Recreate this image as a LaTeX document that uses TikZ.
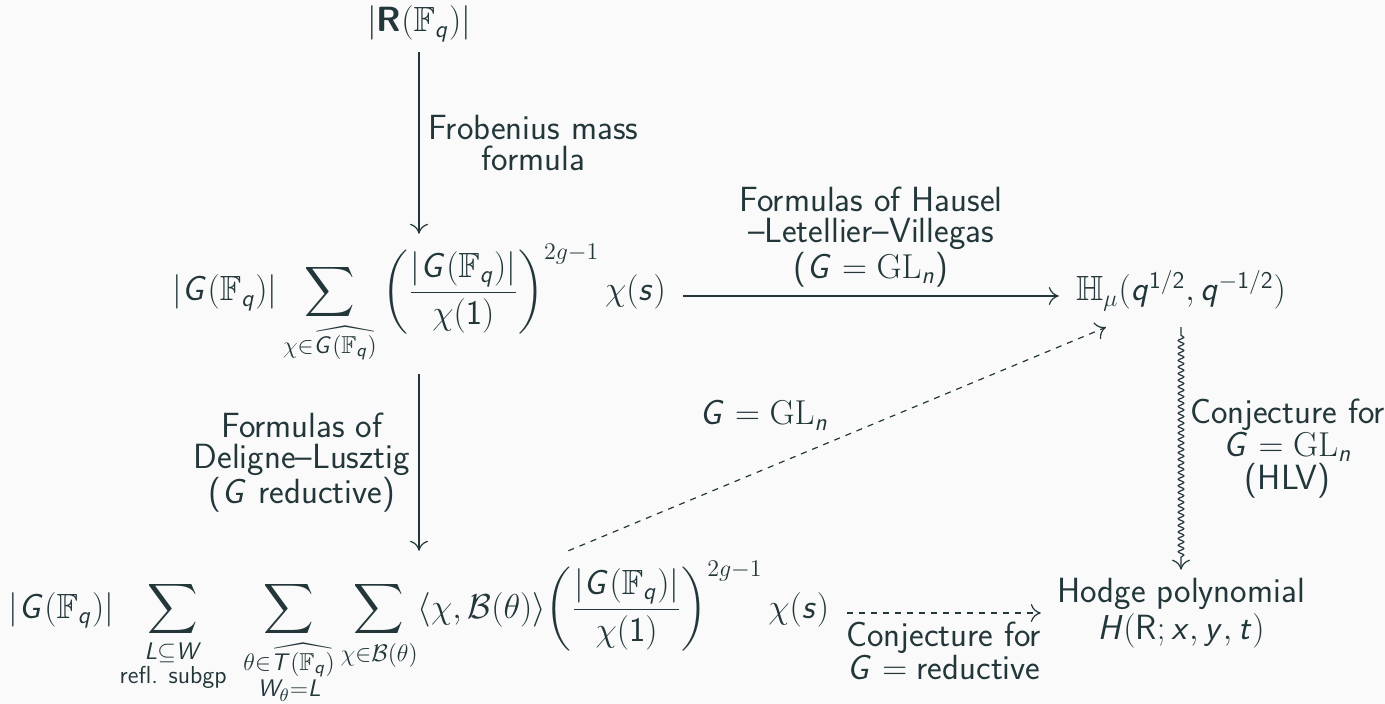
\documentclass[tikz,border=0pt]{standalone}
\usepackage{amsmath,amssymb}
\usetikzlibrary{cd,decorations.pathmorphing,arrows.meta}
\DeclareSymbolFont{sfit}{OT1}{cmss}{m}{sl}
\DeclareSymbolFont{sfup}{OT1}{cmss}{m}{n}
\DeclareMathSymbol{G}{\mathalpha}{sfit}{`G}
\DeclareMathSymbol{L}{\mathalpha}{sfit}{`L}
\DeclareMathSymbol{W}{\mathalpha}{sfit}{`W}
\DeclareMathSymbol{T}{\mathalpha}{sfit}{`T}
\DeclareMathSymbol{H}{\mathalpha}{sfit}{`H}
\DeclareMathSymbol{q}{\mathalpha}{sfit}{`q}
\DeclareMathSymbol{s}{\mathalpha}{sfit}{`s}
\DeclareMathSymbol{n}{\mathalpha}{sfit}{`n}
\DeclareMathSymbol{x}{\mathalpha}{sfit}{`x}
\DeclareMathSymbol{y}{\mathalpha}{sfit}{`y}
\DeclareMathSymbol{t}{\mathalpha}{sfit}{`t}
\DeclareMathSymbol{1}{\mathalpha}{sfup}{`1}
\DeclareMathSymbol{2}{\mathalpha}{sfup}{`2}
\definecolor{fg}{HTML}{23373B}
\definecolor{bg}{HTML}{FAFAFA}
\newcommand\Fq{\mathbb{F}_q}
\newcommand\GFq{\lvert G(\Fq)\rvert}
\newcommand\expo{^{\mathrm{2}g-\mathrm{1}}}
\newcommand\basefont{\sffamily\fontsize{17.5}{15.5}\selectfont}
\tikzset{
  cell/.style={shape=asymmetrical rectangle, inner xsep=8.5pt, inner ysep=5pt},
  lab/.style={inner sep=4.2pt, align=center},
  arr/.style={-{Computer Modern Rightarrow[length=5pt,width=9pt]}, line width=0.6pt},
}
\begin{document}
\begin{tikzpicture}[x=0.5pt,y=-0.5pt,color=fg,font=\basefont]
\fill[bg] (0,0) rectangle (1385,704);
\useasboundingbox (0,0) rectangle (1385,704);
\node[cell] (R) at (419,27) {$\lvert\text{\bfseries R}(\Fq)\rvert$};
\node[cell] (top) at (419,296) {$\displaystyle \GFq \sum_{\chi\in\widehat{G(\Fq)}} \left(\frac{\GFq}{\chi(1)}\right)\expo \chi(s)$};
\node[cell] (bot) at (419,613) {$\displaystyle \GFq \sum_{\substack{L\subseteq W\\ \text{refl. subgp}}}\ \sum_{\substack{\theta\in\widehat{T(\Fq)}\\ W_\theta=L}} \sum_{\chi\in\mathcal{B}(\theta)} \langle\chi,\mathcal{B}(\theta)\rangle\! \left(\frac{\GFq}{\chi(1)}\right)\expo \chi(s)$};
\node[cell, inner ysep=8pt] (Hmu) at (1181,296) {$\mathbb{H}_\mu(q^{1/2},q^{-1/2})$};
\node[inner xsep=8pt, inner ysep=4pt, align=center, font=\sffamily\fontsize{17.5}{18.5}\selectfont] (Hodge) at (1181,613) {Hodge polynomial\\$H(\text{R};x,y,t)$};
\draw[arr] (R) -- node[lab, right]{Frobenius mass\\formula} (top);
\draw[arr] (top) -- node[lab, left]{Formulas of\\Deligne--Lusztig\\($G$ reductive)} (bot);
\draw[arr] (top) -- node[lab, above]{Formulas of Hausel\\--Letellier--Villegas\\($G=\mathrm{GL}_n$)} (Hmu);
\draw[arr, dashed] (bot) -- node[lab, above left]{$G=\mathrm{GL}_n$} (Hmu);
\draw[arr, dashed] (bot) -- node[lab, below]{Conjecture for\\$G=\text{reductive}$} (Hodge);
\draw[arr, decorate, decoration={snake, segment length=3.3pt, amplitude=1.4pt, pre length=4pt, post length=5pt}] (Hmu) -- node[lab, right]{Conjecture for\\$G=\mathrm{GL}_n$\\(HLV)} (Hodge);
\end{tikzpicture}
\end{document}
